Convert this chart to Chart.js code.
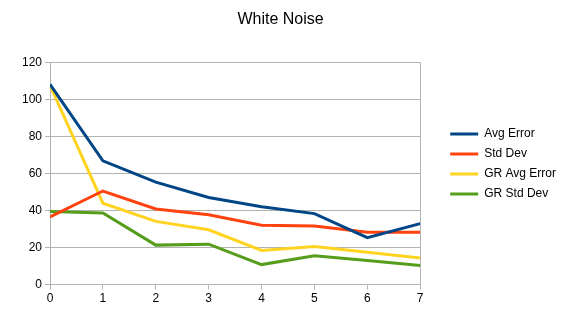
<!DOCTYPE html>
<html>
<head>
<meta charset="utf-8">
<script src="https://cdn.jsdelivr.net/npm/chart.js@4/dist/chart.umd.min.js"></script>
<style>
  html, body { margin: 0; padding: 0; background: #fff; }
  #wrap { width: 561px; height: 328px; }
</style>
</head>
<body>
<div id="wrap"><canvas id="chart"></canvas></div>
<script>
// Data
const steps = [0, 1, 2, 3, 4, 5, 6, 7];
const avgError   = [108, 66.8, 55.3, 47, 42, 38.3, 25.3, 32.9];
const stdDev     = [36.5, 50.5, 40.8, 37.7, 32, 31.6, 28.3, 28.3];
const grAvgError = [107.5, 43.9, 34.1, 29.6, 18.4, 20.6, 17.5, 14.4];
const grStdDev   = [39.4, 38.6, 21.3, 21.8, 10.8, 15.5, 13, 10.3];
const yTicks = [0, 20, 40, 60, 80, 100, 120];

const GRID = '#b3b3b3';
const FONT = 'Liberation Sans, Arial, sans-serif';

function series(label, values, color) {
  return {
    label: label,
    data: steps.map((s, i) => ({ x: s, y: values[i] })),
    borderColor: color,
    backgroundColor: color,
    borderWidth: 3,
    pointRadius: 0,
    tension: 0
  };
}

// legend sits a bit away from the plot; title centred on the whole canvas
const layoutTweaks = {
  id: 'layoutTweaks',
  afterInit(chart) {
    const lg = chart.legend;
    const fit = lg.fit;
    lg.fit = function () { fit.call(this); this.width += 17; };
  },
  afterLayout(chart) {
    const lg = chart.legend;
    lg.left += 22;
    lg.top += 8;
    lg.bottom += 8;
    chart.titleBlock.left = 0;
    chart.titleBlock.right = chart.width;
  }
};

new Chart(document.getElementById('chart'), {
  type: 'line',
  data: {
    datasets: [
      series('Avg Error', avgError, '#004586'),
      series('Std Dev', stdDev, '#ff420e'),
      series('GR Avg Error', grAvgError, '#ffd320'),
      series('GR Std Dev', grStdDev, '#579d1c')
    ]
  },
  options: {
    responsive: true,
    maintainAspectRatio: false,
    animation: false,
    layout: { padding: { left: 19, right: 0, top: 4, bottom: 20 } },
    plugins: {
      title: {
        display: true,
        text: 'White Noise',
        color: '#000',
        font: { family: FONT, size: 16, weight: 'normal' },
        padding: { top: 6, bottom: 33 }
      },
      legend: {
        position: 'right',
        labels: {
          color: '#000',
          font: { family: FONT, size: 12 },
          usePointStyle: true,
          pointStyle: 'line',
          pointStyleWidth: 28,
          padding: 8
        }
      },
      tooltip: { enabled: false }
    },
    scales: {
      x: {
        type: 'linear',
        min: steps[0],
        max: steps[steps.length - 1],
        ticks: { stepSize: 1, color: '#000', font: { family: FONT, size: 12 }, padding: 2 },
        grid: {
          color: ctx => (ctx.tick && (ctx.tick.value === steps[0] || ctx.tick.value === steps[steps.length - 1])) ? GRID : 'rgba(0,0,0,0)',
          tickColor: GRID,
          tickLength: 5
        },
        border: { color: GRID }
      },
      y: {
        min: yTicks[0],
        max: yTicks[yTicks.length - 1],
        afterBuildTicks: axis => { axis.ticks = yTicks.map(v => ({ value: v })); },
        ticks: { color: '#000', font: { family: FONT, size: 12 }, padding: 3 },
        grid: { color: GRID, tickColor: GRID, tickLength: 5 },
        border: { color: GRID }
      }
    }
  },
  plugins: [layoutTweaks]
});
</script>
</body>
</html>
